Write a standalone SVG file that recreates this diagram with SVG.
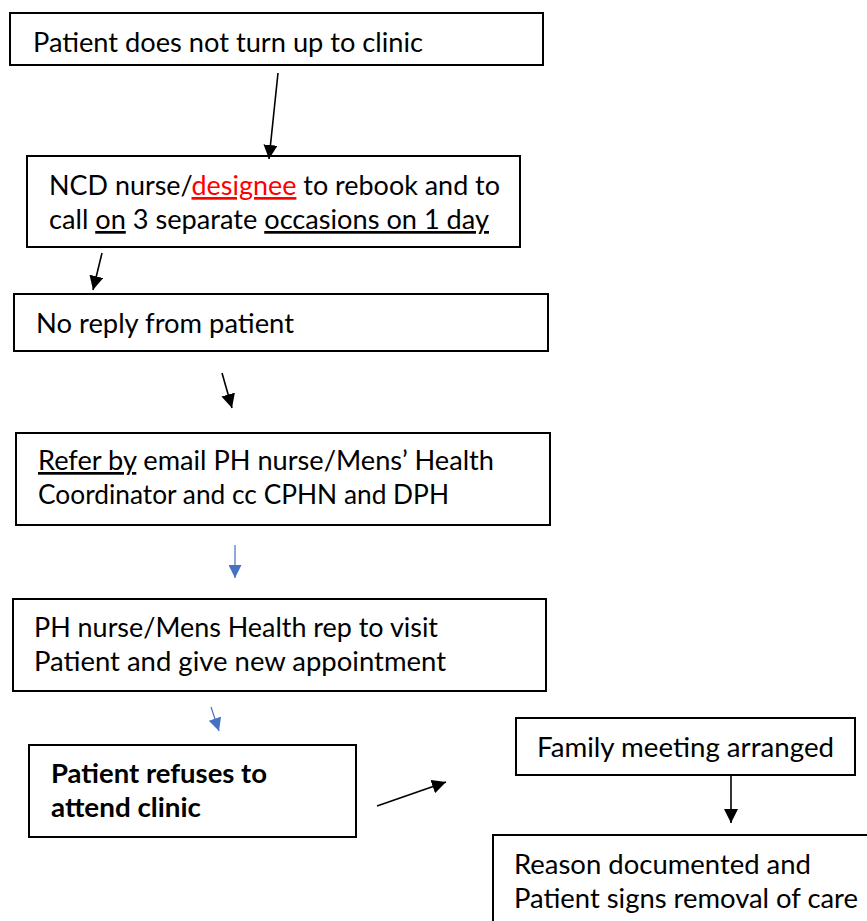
<svg xmlns="http://www.w3.org/2000/svg" width="867" height="921" viewBox="0 0 867 921">
  <style>
    .box { fill: #ffffff; stroke: #000000; stroke-width: 2; }
    .txt { font-family: "Lato", "Open Sans", "Liberation Sans", sans-serif; font-size: 27px; fill: #000000; }
    .bold { font-weight: bold; }
    .red { fill: #ff0000; }
    .ul { text-decoration: underline; }
    .conn { fill: none; stroke: #000000; stroke-width: 1.6; }
    .conn-blue { fill: none; stroke: #4472c4; stroke-width: 1.2; }
  </style>
  <defs>
    <marker id="head" markerUnits="userSpaceOnUse" markerWidth="14" markerHeight="14" viewBox="0 0 14 14" refX="14" refY="7" orient="auto">
      <path d="M0,0 L14,7 L0,14 Z" fill="#000000"/>
    </marker>
    <marker id="head-blue" markerUnits="userSpaceOnUse" markerWidth="13" markerHeight="13" viewBox="0 0 13 13" refX="13" refY="6.5" orient="auto">
      <path d="M0,0 L13,6.5 L0,13 Z" fill="#4472c4"/>
    </marker>
  </defs>

  <rect width="867" height="921" fill="#ffffff"/>

  <g id="no-show">
    <rect class="box" x="10" y="13" width="533" height="52"/>
    <text class="txt" x="33" y="52" textLength="390" lengthAdjust="spacingAndGlyphs">Patient does not turn up to clinic</text>
  </g>

  <g id="rebook">
    <rect class="box" x="27" y="156" width="493" height="91"/>
    <text class="txt" x="49" y="195" textLength="451" lengthAdjust="spacingAndGlyphs">NCD nurse/<tspan class="red ul">designee</tspan> to rebook and to</text>
    <text class="txt" x="49" y="229" textLength="440" lengthAdjust="spacingAndGlyphs">call <tspan class="ul">on</tspan> 3 separate <tspan class="ul">occasions on 1 day</tspan></text>
  </g>

  <g id="no-reply">
    <rect class="box" x="14" y="294" width="534" height="57"/>
    <text class="txt" x="36" y="333" textLength="258" lengthAdjust="spacingAndGlyphs">No reply from patient</text>
  </g>

  <g id="refer">
    <rect class="box" x="16" y="433" width="534" height="92"/>
    <text class="txt" x="38" y="470" textLength="456" lengthAdjust="spacingAndGlyphs"><tspan class="ul">Refer by</tspan> email PH nurse/Mens’ Health</text>
    <text class="txt" x="38" y="504" textLength="411" lengthAdjust="spacingAndGlyphs">Coordinator and cc CPHN and DPH</text>
  </g>

  <g id="home-visit">
    <rect class="box" x="13" y="599" width="533" height="92"/>
    <text class="txt" x="34" y="637" textLength="404" lengthAdjust="spacingAndGlyphs">PH nurse/Mens Health rep to visit</text>
    <text class="txt" x="34" y="671" textLength="412" lengthAdjust="spacingAndGlyphs">Patient and give new appointment</text>
  </g>

  <g id="refuses">
    <rect class="box" x="29" y="745" width="327" height="92"/>
    <text class="txt bold" x="51" y="783" textLength="216" lengthAdjust="spacingAndGlyphs">Patient refuses to</text>
    <text class="txt bold" x="51" y="817" textLength="150" lengthAdjust="spacingAndGlyphs">attend clinic</text>
  </g>

  <g id="family-meeting">
    <rect class="box" x="516" y="718" width="339" height="57"/>
    <text class="txt" x="537" y="757" textLength="297" lengthAdjust="spacingAndGlyphs">Family meeting arranged</text>
  </g>

  <g id="removal">
    <rect class="box" x="493" y="835" width="390" height="100"/>
    <text class="txt" x="514" y="874" textLength="297" lengthAdjust="spacingAndGlyphs">Reason documented and</text>
    <text class="txt" x="514" y="908" textLength="344" lengthAdjust="spacingAndGlyphs">Patient signs removal of care</text>
  </g>

  <g id="connectors">
    <line class="conn" x1="278" y1="73" x2="269" y2="159" marker-end="url(#head)"/>
    <line class="conn" x1="102" y1="253" x2="93" y2="290" marker-end="url(#head)"/>
    <line class="conn" x1="222" y1="373" x2="232" y2="408" marker-end="url(#head)"/>
    <line class="conn-blue" x1="235" y1="545" x2="235" y2="578" marker-end="url(#head-blue)"/>
    <line class="conn-blue" x1="211" y1="707" x2="219" y2="731" marker-end="url(#head-blue)"/>
    <line class="conn" x1="377" y1="806" x2="446" y2="782" marker-end="url(#head)"/>
    <line class="conn" x1="731" y1="775" x2="731" y2="823" marker-end="url(#head)"/>
  </g>
</svg>
